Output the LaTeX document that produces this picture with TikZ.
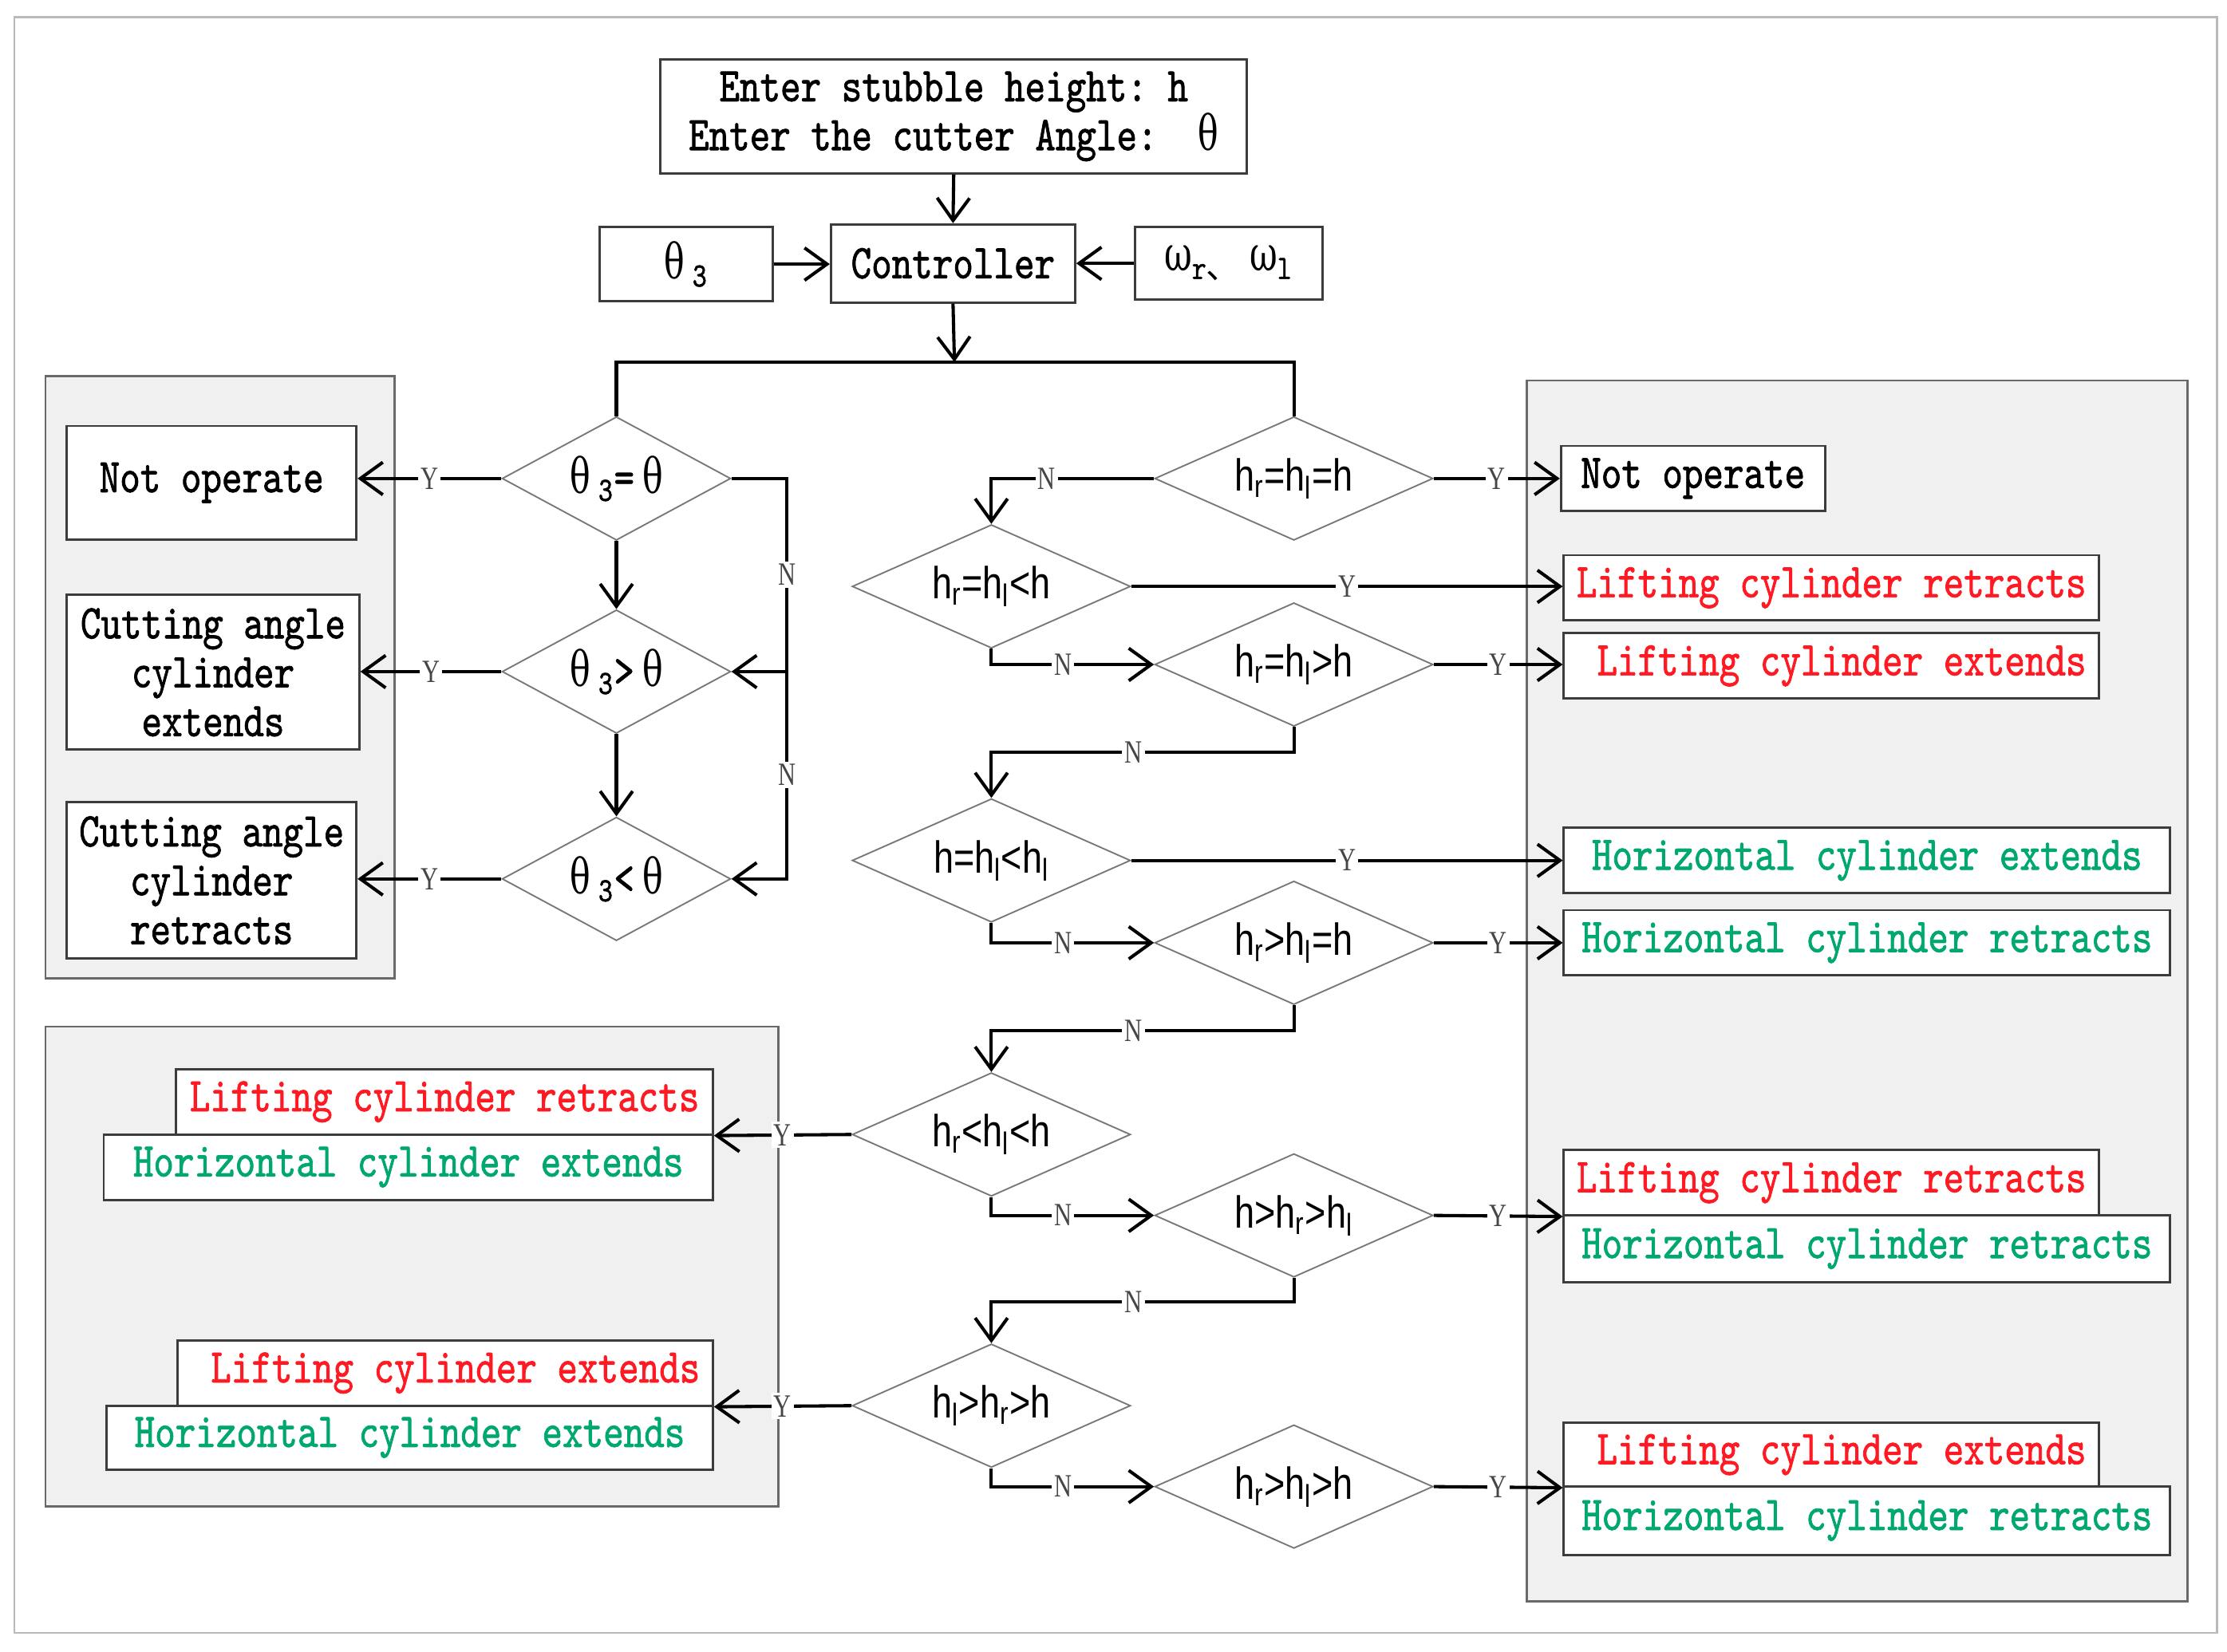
\documentclass[tikz,border=0pt]{standalone}
\usepackage{fontspec}
\usetikzlibrary{arrows.meta,shapes.geometric,fit}
\newfontfamily\boxfont{lmmono10-regular.otf}[FakeStretch=0.8,FakeBold=1.2]
\newfontfamily\dsans{Liberation Sans}[FakeStretch=0.8]
\newfontfamily\grk{DejaVu Serif}[FakeStretch=0.7]
\newfontfamily\lblserif{Liberation Serif}[FakeStretch=0.75]
\newfontfamily\cjk{Noto Sans CJK SC}
\newcommand\bfnt{\boxfont\fontsize{19.45}{19.6}\selectfont}
\newcommand\dfnt{\dsans\fontsize{18}{20}\selectfont}
\newcommand\thx{{\grk θ}}
\newcommand\omx{{\grk ω}}
\definecolor{lcred}{RGB}{255,25,35}
\definecolor{hcgreen}{RGB}{0,168,112}
\definecolor{panelfill}{RGB}{240,240,240}
\definecolor{panelline}{RGB}{105,105,105}
\definecolor{boxline}{RGB}{60,60,60}
\definecolor{dialine}{RGB}{120,120,120}
\definecolor{framegray}{RGB}{185,185,185}
\definecolor{lblgray}{RGB}{70,70,70}
\begin{document}
\begin{tikzpicture}[x=0.02cm,y=-0.02cm,
  frame/.style={draw=framegray, line width=0.8pt, inner sep=0pt},
  panel/.style={draw=panelline, fill=panelfill, line width=0.9pt, inner sep=0pt},
  box/.style={draw=boxline, line width=0.9pt, fill=white, inner sep=0pt, align=center, font=\bfnt},
  sz/.style 2 args={minimum width=#1cm, minimum height=#2cm},
  red/.style={box, text=lcred},
  green/.style={box, text=hcgreen},
  dia/.style={diamond, aspect=2.2, draw=dialine, line width=0.6pt, fill=white, inner sep=0pt, minimum height=1.74cm},
  diaL/.style={dia, minimum width=3.22cm, font=\bfnt},
  diaR/.style={dia, minimum width=3.92cm, font=\dfnt},
  line/.style={draw=black, line width=1.3pt},
  arr/.style={line, -{Straight Barb[length=9pt,width=13pt]}},
  lbl/.style={fill=white, inner sep=1pt, text=lblgray, font=\lblserif\fontsize{13}{13}\selectfont}
]
\useasboundingbox (0,0) rectangle (1568,1163);
% outer frame and panels
\node[frame, fit={(10,12) (1561,1150)}] (frm) {};
\node[panel, fit={(32,265) (278,689)}] (pL1) {};
\node[panel, fit={(32,723) (548,1061)}] (pL2) {};
\node[panel, fit={(1075,268) (1540,1128)}] (pR) {};

% top
\node[box, sz={8.26}{1.6}] (top) at (671.5,82) {Enter stubble height:~h\\Enter the cutter Angle:~~\thx};
\node[box, sz={3.44}{1.1}] (ctrl) at (671,185.5) {Controller};
\node[box, sz={2.44}{1.04}] (th3) at (483,186) {\thx\,\textsubscript{3}};
\node[box, sz={2.64}{1.02}] (omg) at (865,185.5) {\omx\textsubscript{r{\cjk 、}}\,\omx\textsubscript{l}};

% left panel 1
\node[box, sz={4.08}{1.6}] (no1) at (149,340) {Not operate};
\node[box, sz={4.12}{2.18}] (ce) at (150,473.5) {Cutting angle\\cylinder\\extends};
\node[box, sz={4.08}{2.2}] (cr) at (149,620) {Cutting angle\\cylinder\\retracts};

% left panel 2
\node[red, sz={7.56}{0.92}] (lr1) at (313,776) {Lifting cylinder retracts};
\node[green, sz={8.58}{0.92}] (hx1) at (287.5,822) {Horizontal cylinder extends};
\node[red, sz={7.54}{0.92}] (le2) at (313.5,967) {~Lifting cylinder extends};
\node[green, sz={8.54}{0.9}] (hx2) at (288.5,1012.5) {Horizontal cylinder extends};

% right panel
\node[box, sz={3.72}{0.92}] (rno) at (1192,337) {Not operate};
\node[red, sz={7.54}{0.92}] (rlr) at (1289.5,414) {Lifting cylinder retracts};
\node[red, sz={7.54}{0.92}] (rle) at (1289.5,469) {~Lifting cylinder extends};
\node[green, sz={8.54}{0.92}] (rhe) at (1314.5,606) {Horizontal cylinder extends};
\node[green, sz={8.54}{0.92}] (rhr) at (1314.5,664) {Horizontal cylinder retracts};
\node[red, sz={7.54}{0.92}] (rlr2) at (1289.5,833) {Lifting cylinder retracts};
\node[green, sz={8.54}{0.94}] (rhr2) at (1314.5,879.5) {Horizontal cylinder retracts};
\node[red, sz={7.54}{0.9}] (rle3) at (1289.5,1024.5) {~Lifting cylinder extends};
\node[green, sz={8.54}{0.96}] (rhr3) at (1314.5,1071) {Horizontal cylinder retracts};

% diamonds left
\node[diaL] (d1) at (434,337) {\thx\,\textsubscript{3}=\,\thx};
\node[diaL] (d2) at (434,473) {\thx\,\textsubscript{3}>\,\thx};
\node[diaL] (d3) at (434,619) {\thx\,\textsubscript{3}<\,\thx};

% diamonds right
\node[diaR] (da1) at (911,337) {h\textsubscript{r}=h\textsubscript{l}=h};
\node[diaR] (db1) at (698,413) {h\textsubscript{r}=h\textsubscript{l}<h};
\node[diaR] (da2) at (911,468) {h\textsubscript{r}=h\textsubscript{l}>h};
\node[diaR] (db2) at (698,606) {h=h\textsubscript{l}<h\textsubscript{l}};
\node[diaR] (da3) at (911,664) {h\textsubscript{r}>h\textsubscript{l}=h};
\node[diaR] (db3) at (698,799) {h\textsubscript{r}<h\textsubscript{l}<h};
\node[diaR] (da4) at (911,856) {h>h\textsubscript{r}>h\textsubscript{l}};
\node[diaR] (db4) at (698,990) {h\textsubscript{l}>h\textsubscript{r}>h};
\node[diaR] (da5) at (911,1047) {h\textsubscript{r}>h\textsubscript{l}>h};

% top connections
\coordinate (split) at (672,255);
\coordinate (nr) at (554,337);
\draw[arr] (top.south) -- (ctrl.north);
\draw[arr] (th3.east) -- (th3.east -| ctrl.west);
\draw[arr] (omg.west) -- (omg.west -| ctrl.east);
\draw[arr] (ctrl.south) -- (split);
\draw[line] (d1.north) |- (split) -| (da1.north);

% left column
\draw[arr] (d1.south) -- (d2.north);
\draw[arr] (d2.south) -- (d3.north);
\draw[arr] (d1.west) -- node[lbl]{Y} (d1.west -| no1.east);
\draw[arr] (d2.west) -- node[lbl]{Y} (d2.west -| ce.east);
\draw[arr] (d3.west) -- node[lbl]{Y} (d3.west -| cr.east);
\draw[arr] (d1.east) -- (nr) -- node[lbl,pos=0.24]{N} node[lbl,pos=0.74]{N} (nr |- d3.east) -- (d3.east);
\draw[arr] (nr |- d2.east) -- (d2.east);

% right column: Y branches
\draw[arr] (da1.east) -- node[lbl]{Y} (rno.west);
\draw[arr] (db1.east) -- node[lbl]{Y} (db1.east -| rlr.west);
\draw[arr] (da2.east) -- node[lbl]{Y} (da2.east -| rle.west);
\draw[arr] (db2.east) -- node[lbl]{Y} (db2.east -| rhe.west);
\draw[arr] (da3.east) -- node[lbl]{Y} (da3.east -| rhr.west);
\draw[arr] (da4.east) -- node[lbl]{Y} (rlr2.south west);
\draw[arr] (da5.east) -- node[lbl]{Y} (rle3.south west);
\draw[arr] (db3.west) -- node[lbl]{Y} (lr1.south east);
\draw[arr] (db4.west) -- node[lbl]{Y} (le2.south east);

% right column: N branches
\draw[arr] (da1.west) -| node[lbl,pos=0.33]{N} (db1.north);
\draw[arr] (db1.south) |- node[lbl,pos=0.72]{N} (da2.west);
\draw[arr] (da2.south) -- ++(0,18) -| node[lbl,pos=0.265]{N} (db2.north);
\draw[arr] (db2.south) |- node[lbl,pos=0.72]{N} (da3.west);
\draw[arr] (da3.south) -- ++(0,18) -| node[lbl,pos=0.265]{N} (db3.north);
\draw[arr] (db3.south) |- node[lbl,pos=0.72]{N} (da4.west);
\draw[arr] (da4.south) -- ++(0,17) -| node[lbl,pos=0.265]{N} (db4.north);
\draw[arr] (db4.south) |- node[lbl,pos=0.72]{N} (da5.west);
\end{tikzpicture}
\end{document}
